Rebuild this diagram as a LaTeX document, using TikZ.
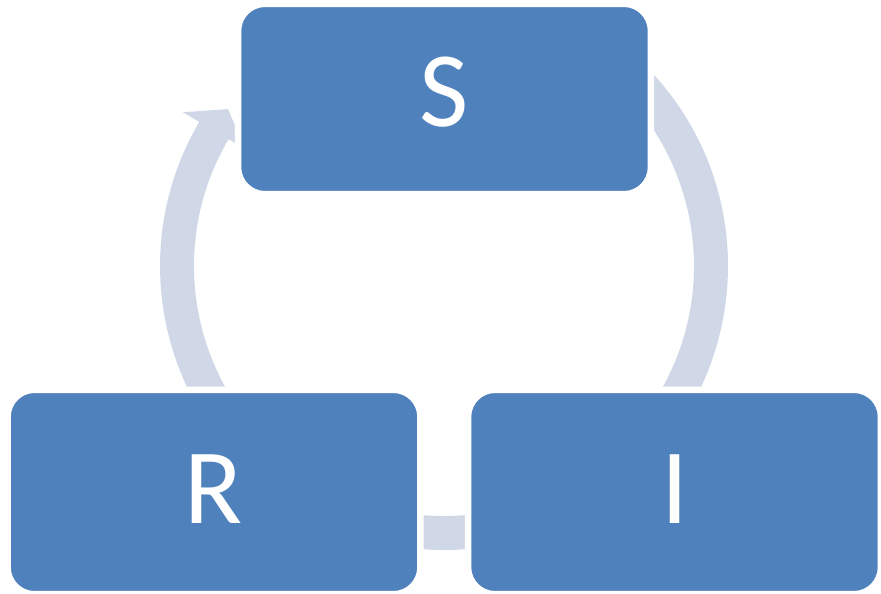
\documentclass[tikz,border=0pt]{standalone}
\usepackage{fontspec}
\setmainfont{Carlito}
\definecolor{stageblue}{HTML}{4F81BD}
\definecolor{cyclegray}{HTML}{D0D8E8}
\tikzstyle{stage}=[rectangle, rounded corners=0.54cm, fill=stageblue, draw=white,
line width=0.13cm, minimum width=8.26cm, inner sep=0pt, text=white,
font=\fontsize{61}{61}\selectfont, text depth=0.12cm]
\tikzstyle{cycle}=[fill=cyclegray]

\begin{document}
\begin{tikzpicture}[x=0.02cm,y=0.02cm]
\useasboundingbox (0,0) rectangle (881,593);
\coordinate (centre) at (444,327);
% the cycle arrow, S -> I -> R -> S
\begin{scope}[shift={(centre)}]
\fill[cycle] (42.7:284) arc[start angle=42.7, end angle=-210.5, radius=284]
  -- (-210.5:303) -- (-216:267) -- (-210.5:231) -- (-210.5:250)
  arc[start angle=-210.5, end angle=42.7, radius=250] -- cycle;
\end{scope}
\node[stage, minimum height=3.81cm, text depth=0.28cm](S) at (444.5,494) {S};
\node[stage, minimum height=4.09cm](R) at (214,101) {R};
\node[stage, minimum height=4.09cm](I) at (674.5,101) {I};
\end{tikzpicture}
\end{document}
